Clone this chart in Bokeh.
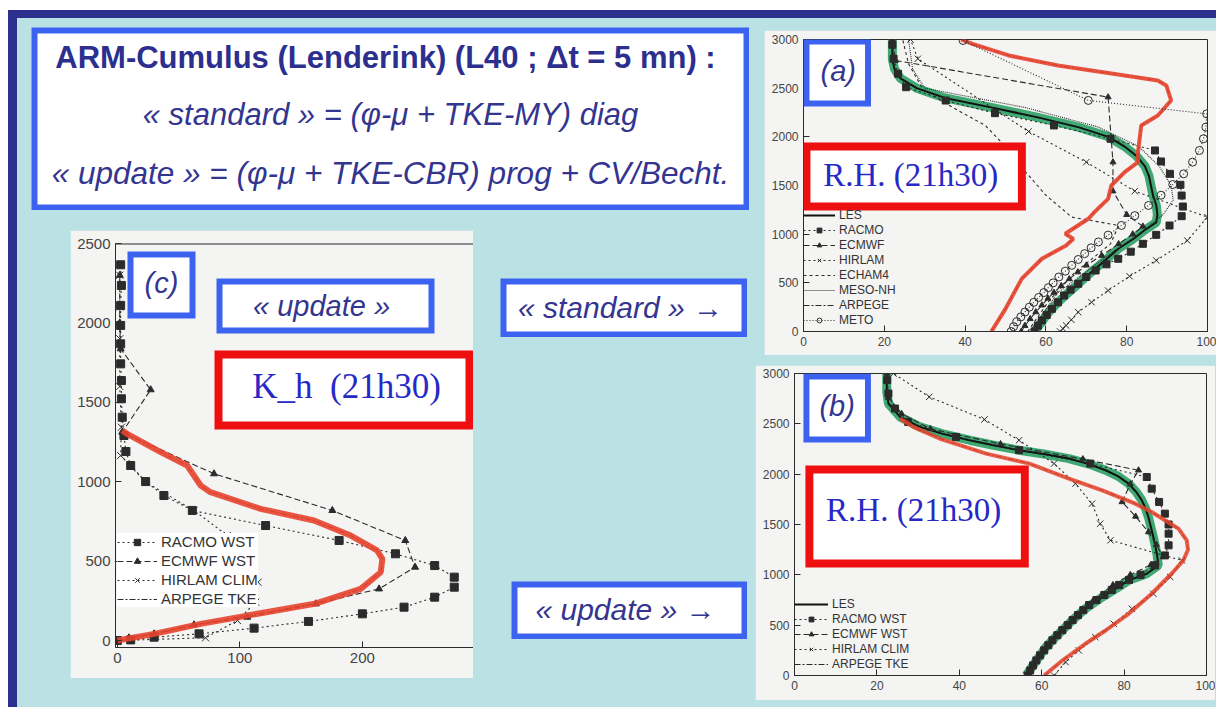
from bokeh.plotting import figure
from bokeh.models import (Range1d, FixedTicker, BoxAnnotation, Label, Span,
                          Legend, LegendItem)
from bokeh.layouts import row, column
from bokeh.embed import file_html
from bokeh.resources import INLINE

# ---------------- colours ----------------
LB = "#bae1e4"; NAVY = "#2d2f8e"; BLUE = "#3c62f0"; RED = "#ee1010"
TXT = "#34358f"; RHC = "#2828c6"; PBG = "#f4f4f3"; INK = "#2b2b2b"
GREEN = "#1f9a5c"; ORANGE = "#e8442c"; TICKC = "#444444"

# ---------------- texts ----------------
TITLE_1 = "ARM-Cumulus (Lenderink) (L40 ; \u0394t = 5 mn) :"
TITLE_2 = "\u00ab standard \u00bb = (\u03c6-\u03bc + TKE-MY) diag"
TITLE_3 = "\u00ab update \u00bb = (\u03c6-\u03bc + TKE-CBR) prog + CV/Becht."
STD_TXT = "\u00ab standard \u00bb \u2192"
UPD_TXT = "\u00ab update \u00bb \u2192"
UPD_C = "\u00ab update \u00bb"
RH_TXT = "R.H. (21h30)"
KH_TXT = "K_h \u00a0(21h30)"

# ---------------- panel (a): « standard », relative humidity (%) vs height (m) ----------------
A_RH_TICKS = [0, 20, 40, 60, 80, 100]
A_Z_TICKS = [0, 500, 1000, 1500, 2000, 2500, 3000]
A_LES_Z = [0, 100, 200, 300, 370, 450, 540, 620, 700, 780, 850, 950, 1040, 1120, 1200, 1300, 1400,
           1500, 1600, 1700, 1800, 1900, 2000, 2100, 2200, 2300, 2400, 2500, 2600, 2700, 2800, 2900, 3000]
A_LES_RH = [57.2, 59.0, 60.7, 63.0, 64.8, 67.0, 69.3, 71.5, 73.8, 76.0, 77.9, 81.6, 84.4, 87.3, 87.6, 87.3, 86.5,
            86.0, 85.5, 84.5, 82.5, 79.5, 75.5, 68.0, 58.0, 46.7, 35.0, 28.0, 24.0, 22.5, 22.0, 22.0, 22.0]
A_RACMO_Z = [0, 60, 113, 170, 233, 300, 370, 430, 490, 560, 627, 690, 747, 820, 901, 993, 1089, 1185, 1284,
             1397, 1507, 1620, 1747, 1860, 1980, 2117, 2243, 2373, 2510, 2648, 2802, 2946]
A_RACMO_RH = [57.2, 58.0, 59.0, 60.2, 61.5, 63.0, 64.5, 66.1, 68.0, 70.0, 72.3, 75.0, 77.9, 81.0, 84.0, 87.3, 90.6,
              93.6, 93.9, 93.6, 93.3, 90.7, 88.5, 87.0, 76.0, 62.0, 47.4, 35.2, 25.4, 23.4, 22.3, 22.0]
A_ECMWF_Z = [0, 60, 130, 200, 270, 340, 400, 470, 540, 610, 680, 780, 900, 1000, 1080, 1200, 1442, 1740,
             2408, 2785, 3000]
A_ECMWF_RH = [53.9, 54.8, 56.1, 57.5, 59.0, 60.5, 62.0, 63.8, 65.8, 67.9, 70.0, 73.8, 78.0, 81.5, 84.0, 80.0,
              76.6, 76.6, 75.4, 22.8, 22.0]
A_HIRLAM_Z = [0, 30, 62, 120, 199, 301, 421, 568, 730, 935, 1175, 1442, 1740, 2055, 2802, 3000]
A_HIRLAM_RH = [63.5, 64.2, 65.0, 66.3, 68.0, 71.3, 75.4, 80.7, 87.3, 95.0, 100.0, 82.0, 70.0, 55.7, 28.3, 26.5]
A_ECHAM4_Z = [0, 300, 600, 900, 1090, 1175, 1400, 1637, 1900, 2117, 2300, 2493, 2750, 2990]
A_ECHAM4_RH = [55.5, 60.5, 67.0, 76.0, 78.0, 66.4, 60.0, 55.0, 50.0, 45.0, 37.0, 29.5, 26.0, 24.6]
A_MESONH_Z = [0, 400, 800, 1000, 1200, 1350, 1500, 1700, 1900, 2100, 2300, 2500, 2700, 3000]
A_MESONH_RH = [56.0, 63.0, 76.0, 83.0, 89.0, 91.5, 91.0, 88.0, 83.0, 73.0, 55.0, 30.0, 27.0, 26.0]
A_ARPEGE_Z = [0, 233, 541, 747, 884, 952, 1004, 1158, 1226, 1363, 1500, 1637, 1740, 1843, 2117, 2219, 2374,
              2528, 2579, 2630, 2733, 2836, 2956, 3000]
A_ARPEGE_RH = [46.5, 50.0, 54.0, 59.0, 65.0, 66.8, 64.8, 70.5, 72.0, 75.4, 76.2, 79.5, 82.8, 82.8, 83.6, 87.7,
               91.0, 89.8, 87.7, 79.5, 63.0, 50.8, 41.8, 39.0]
A_METO_Z = [0, 50, 100, 150, 200, 250, 300, 350, 400, 450, 500, 560, 620, 680, 740, 800, 860, 920, 990, 1090,
            1190, 1295, 1400, 1510, 1620, 1740, 1860, 1980, 2100, 2236, 2374, 2990]
A_METO_RH = [51.4, 52.0, 52.8, 53.8, 54.8, 55.9, 57.0, 58.2, 59.5, 60.6, 61.8, 63.2, 64.8, 66.4, 68.0, 69.6,
             71.2, 73.0, 75.4, 78.7, 82.0, 85.4, 88.5, 91.4, 94.1, 96.3, 98.0, 99.0, 99.6, 99.8, 70.5, 39.5]

# ---------------- panel (b): « update », relative humidity (%) vs height (m) ----------------
B_LES_Z = [0, 100, 200, 282, 400, 547, 660, 779, 870, 945, 1011, 1094, 1200, 1300, 1376, 1475, 1575, 1660,
           1740, 1820, 1906, 1980, 2039, 2100, 2155, 2200, 2238, 2290, 2337, 2400, 2470, 2569, 2702, 2818, 3000]
B_LES_RH = [56.2, 57.9, 59.6, 61.0, 63.8, 67.4, 70.5, 74.7, 78.3, 81.1, 85.5, 88.3, 88.0, 87.5, 87.1, 86.5,
            85.9, 85.2, 84.3, 83.0, 81.1, 78.5, 75.5, 71.5, 66.6, 60.5, 54.5, 48.0, 42.5, 36.0, 30.4, 25.6,
            22.8, 22.4, 22.4]
B_RACMO_Z = [0, 50, 100, 150, 200, 250, 300, 350, 400, 450, 500, 550, 600, 650, 700, 750, 800, 850, 900, 950,
             1000, 1094, 1193, 1293, 1409, 1500, 1608, 1724, 1856, 1972, 2105, 2238, 2370, 2519, 2652, 2801, 2934]
B_RACMO_RH = [56.6, 57.2, 57.9, 58.7, 59.6, 60.6, 61.6, 62.6, 63.8, 65.0, 66.3, 67.5, 68.8, 70.1, 71.5, 73.3,
              75.2, 77.0, 78.8, 81.2, 84.0, 87.5, 89.9, 90.8, 90.8, 90.8, 89.9, 88.5, 86.7, 85.5, 71.8, 54.5,
              39.2, 27.6, 24.4, 22.8, 22.5]
B_ECMWF_Z = [0, 100, 200, 300, 450, 600, 750, 900, 1000, 1100, 1180, 1300, 1425, 1580, 1724, 1900, 2039,
             2150, 2300, 2450, 2600, 2760, 3000]
B_ECMWF_RH = [56.5, 58.0, 59.8, 61.8, 65.0, 68.6, 72.6, 77.3, 81.5, 86.5, 89.5, 87.8, 85.9, 82.8, 79.5, 81.5,
              83.5, 70.0, 50.0, 33.0, 26.0, 22.8, 22.4]
B_HIRLAM_Z = [0, 133, 249, 381, 514, 663, 812, 978, 1144, 1343, 1508, 1707, 1906, 2105, 2337, 2543, 2768, 3000]
B_HIRLAM_RH = [63.0, 65.8, 69.0, 73.0, 77.5, 81.9, 87.1, 91.2, 94.0, 76.7, 74.2, 72.2, 68.2, 63.0, 54.5, 46.1,
               32.7, 24.0]
B_ARPEGE_Z = [0, 149, 315, 447, 613, 812, 1011, 1144, 1250, 1343, 1459, 1540, 1624, 1707, 1840, 1956, 2105,
              2204, 2354, 2470, 2553]
B_ARPEGE_RH = [60.6, 65.0, 70.6, 75.5, 81.1, 86.7, 91.5, 94.4, 95.5, 95.2, 93.2, 90.0, 86.7, 82.7, 74.7, 66.6,
               57.0, 46.5, 35.2, 28.8, 25.6]

# ---------------- panel (c): « update », K_h vs height (m) ----------------
C_K_TICKS = [0, 100, 200]
C_Z_TICKS = [0, 500, 1000, 1500, 2000, 2500]
C_RACMO_Z = [0, 4, 21, 42, 78, 120, 168, 210, 273, 336, 399, 472, 546, 630, 724, 819, 913, 1001, 1102, 1190,
             1291, 1406, 1522, 1637, 1742, 1868, 1984, 2110, 2236, 2366]
C_RACMO_K = [0, 10.9, 30, 66.7, 111.6, 156, 200, 234, 259, 275, 275, 259, 227, 181, 121, 61.2, 38, 23.1, 10.9,
             7, 5.4, 4, 3.3, 3.3, 2.7, 2.7, 2.7, 2.7, 3.3, 2.7]
C_ECMWF_Z = [0, 17, 42, 99, 147, 231, 325, 462, 630, 819, 1050, 1312, 1579, 1837, 2000, 2300]
C_ECMWF_K = [0, 9.5, 30, 62.6, 106, 162, 213.6, 243, 235, 175.5, 78.9, 4, 27.2, 2.7, 2.0, 2.0]
C_HIRLAM_Z = [0, 17, 126, 241, 367, 514, 661, 819, 997, 1165, 1343, 1600, 1900, 2100, 2300]
C_HIRLAM_K = [0, 72, 98, 112.9, 114.8, 107.5, 89.8, 62.6, 23.1, 2.7, 3.3, 2.0, 2.0, 2.0, 2.0]
C_ARPEGE_Z = [0, 42, 105, 157, 231, 325, 430, 514, 567, 661, 756, 829, 934, 976, 1102, 1186, 1301, 1322]
C_ARPEGE_K = [0, 30, 68, 106, 161, 198.6, 215, 216.3, 212, 190.5, 160.5, 117, 76, 68, 57, 35.4, 8, 4]


# ---------------- helpers ----------------
class Geo:
    def __init__(self, ox, oy, w, h, fl, ft, fr, fb, xr, yr):
        self.ox, self.oy, self.w, self.h = ox, oy, w, h
        self.fl, self.ft, self.fr, self.fb = fl, ft, fr, fb
        self.xr, self.yr = xr, yr

    def dx(self, px):
        return self.xr[0] + (px - self.fl) / (self.fr - self.fl) * (self.xr[1] - self.xr[0])

    def dy(self, py):
        return self.yr[1] - (py - self.ft) / (self.fb - self.ft) * (self.yr[1] - self.yr[0])


def style_axis(ax, fs):
    ax.axis_line_color = INK
    ax.major_tick_line_color = INK
    ax.major_tick_in = 6
    ax.major_tick_out = 0
    ax.minor_tick_line_color = None
    ax.major_label_text_font = "Liberation Sans"
    ax.major_label_text_font_size = fs
    ax.major_label_text_color = TICKC
    ax.major_label_standoff = 5


def make_panel(g, xticks, yticks, fs, boxed=True):
    p = figure(width=g.w, height=g.h, x_range=Range1d(*g.xr), y_range=Range1d(*g.yr),
               output_backend="svg", toolbar_location=None,
               min_border_left=g.fl - g.ox, min_border_right=g.ox + g.w - g.fr,
               min_border_top=g.ft - g.oy, min_border_bottom=g.oy + g.h - g.fb,
               background_fill_color=PBG, border_fill_color=PBG,
               outline_line_color=INK if boxed else None)
    p.grid.visible = False
    p.xaxis.ticker = FixedTicker(ticks=xticks)
    p.yaxis.ticker = FixedTicker(ticks=yticks)
    for ax in p.xaxis + p.yaxis:
        style_axis(ax, fs)
    if not boxed:
        p.add_layout(Span(location=g.yr[1], dimension="width", line_color=INK, line_width=2))
    return p


def series(p, xs, ys, dash, marker=None, msize=7, fill=True, lw=1.1):
    rs = [p.line(xs, ys, line_color=INK, line_width=lw, line_dash=dash)]
    if marker:
        rs.append(p.scatter(xs, ys, marker=marker, size=msize, line_color=INK,
                            fill_color=INK if fill else None, line_width=1))
    return rs


def framed_box(p, g, x0, y0, x1, y1, color, t):
    p.add_layout(BoxAnnotation(left=g.dx(x0), right=g.dx(x1), top=g.dy(y0), bottom=g.dy(y1),
                               fill_color=color, fill_alpha=1.0, line_color=None))
    p.add_layout(BoxAnnotation(left=g.dx(x0 + t), right=g.dx(x1 - t), top=g.dy(y0 + t),
                               bottom=g.dy(y1 - t), fill_color="white", fill_alpha=1.0, line_color=None))


def label(p, g, cx, my, text, font, size, color, style="normal"):
    p.add_layout(Label(x=g.dx(cx), y=g.dy(my), text=text, text_align="center", text_baseline="middle",
                       text_font=font, text_font_size=size, text_color=color, text_font_style=style))


def legend(p, items, loc, fs, gw, gh, bg=None, sp=1):
    lg = Legend(items=[LegendItem(label=l, renderers=r) for l, r in items], location=loc,
                label_text_font="Liberation Sans", label_text_font_size=fs, label_text_color="#333333",
                glyph_width=gw, glyph_height=gh, label_height=gh, spacing=sp, padding=3, margin=0,
                label_standoff=4, border_line_color=None,
                background_fill_color=bg if bg else "white", background_fill_alpha=1.0 if bg else 0.0)
    p.add_layout(lg)


# ---------------- panel (a) ----------------
ga = Geo(764, 30, 452, 325, 803, 39, 1210, 331, (0, 100), (0, 3000))
pa = make_panel(ga, A_RH_TICKS, A_Z_TICKS, "12px")
pa.line(A_LES_RH, A_LES_Z, line_color=GREEN, line_width=9, line_alpha=0.85)
a_les = pa.line(A_LES_RH, A_LES_Z, line_color="#111111", line_width=2)
a_racmo = series(pa, A_RACMO_RH, A_RACMO_Z, "2 3", "square", 7)
a_ecmwf = series(pa, A_ECMWF_RH, A_ECMWF_Z, "6 3", "triangle", 6)
a_hirlam = series(pa, A_HIRLAM_RH, A_HIRLAM_Z, "2 3", "x", 9)
a_echam = series(pa, A_ECHAM4_RH, A_ECHAM4_Z, "3 3")
a_meso = series(pa, A_MESONH_RH, A_MESONH_Z, "1 1")
a_arpege = series(pa, A_ARPEGE_RH, A_ARPEGE_Z, "6 2 2 2")
pa.line(A_ARPEGE_RH, A_ARPEGE_Z, line_color=ORANGE, line_width=4, line_alpha=0.9)
a_meto = series(pa, A_METO_RH, A_METO_Z, "1 2", "circle", 8, fill=False)
legend(pa, [("LES", [a_les]), ("RACMO", a_racmo), ("ECMWF", a_ecmwf), ("HIRLAM", a_hirlam),
            ("ECHAM4", a_echam), ("MESO-NH", a_meso), ("ARPEGE", a_arpege), ("METO", a_meto)],
       (0, 4), "12px", 32, 12)
framed_box(pa, ga, 803, 38, 871, 106, BLUE, 6)
label(pa, ga, 838, 70, "(a)", "Liberation Sans", "29px", TXT, "italic")
framed_box(pa, ga, 802, 142, 1027, 210, RED, 8)
label(pa, ga, 911, 174, RH_TXT, "Liberation Serif", "33px", RHC)

# ---------------- panel (b) ----------------
gb = Geo(755, 365, 460, 335, 791, 373, 1206, 675, (0, 100), (0, 3000))
pb = make_panel(gb, A_RH_TICKS, A_Z_TICKS, "12px")
pb.line(B_LES_RH, B_LES_Z, line_color=GREEN, line_width=9, line_alpha=0.85)
b_les = pb.line(B_LES_RH, B_LES_Z, line_color="#111111", line_width=2)
b_racmo = series(pb, B_RACMO_RH, B_RACMO_Z, "2 3", "square", 7)
b_ecmwf = series(pb, B_ECMWF_RH, B_ECMWF_Z, "6 3", "triangle", 6)
b_hirlam = series(pb, B_HIRLAM_RH, B_HIRLAM_Z, "2 3", "x", 9)
b_arpege = series(pb, B_ARPEGE_RH, B_ARPEGE_Z, "6 2 2 2")
pb.line(B_ARPEGE_RH, B_ARPEGE_Z, line_color=ORANGE, line_width=4, line_alpha=0.85)
legend(pb, [("LES", [b_les]), ("RACMO WST", b_racmo), ("ECMWF WST", b_ecmwf),
            ("HIRLAM CLIM", b_hirlam), ("ARPEGE TKE", b_arpege)], (0, 4), "12px", 34, 12)
framed_box(pb, gb, 800, 373, 868, 442, BLUE, 6)
label(pb, gb, 834, 405, "(b)", "Liberation Sans", "29px", TXT, "italic")
framed_box(pb, gb, 802, 465, 1027, 567, RED, 8)
label(pb, gb, 911, 509, RH_TXT, "Liberation Serif", "33px", RHC)

# ---------------- panel (c) ----------------
gc = Geo(70, 230, 403, 448, 115, 243, 473, 647, (-1.5, 290.7), (-44, 2500))
pc = make_panel(gc, C_K_TICKS, C_Z_TICKS, "15px", boxed=False)
c_racmo = series(pc, C_RACMO_K, C_RACMO_Z, "2 3", "square", 8)
c_ecmwf = series(pc, C_ECMWF_K, C_ECMWF_Z, "6 3", "triangle", 7)
c_hirlam = series(pc, C_HIRLAM_K, C_HIRLAM_Z, "2 3", "x", 10)
c_arpege = series(pc, C_ARPEGE_K, C_ARPEGE_Z, "6 2 2 2")
pc.line(C_ARPEGE_K, C_ARPEGE_Z, line_color=ORANGE, line_width=6, line_alpha=0.9)
legend(pc, [("RACMO WST", c_racmo), ("ECMWF WST", c_ecmwf), ("HIRLAM CLIM", c_hirlam),
            ("ARPEGE TKE", c_arpege)], (2, 40), "15px", 40, 16, bg="white", sp=2)
framed_box(pc, gc, 127, 251, 195, 318, BLUE, 6)
label(pc, gc, 161, 282, "(c)", "Liberation Sans", "29px", TXT, "italic")
framed_box(pc, gc, 216, 278, 434, 333, BLUE, 6)
label(pc, gc, 321, 305, UPD_C, "Liberation Sans", "29px", TXT, "italic")
framed_box(pc, gc, 214, 350, 473, 429, RED, 8)
label(pc, gc, 346, 386, KH_TXT, "Liberation Serif", "35px", RHC)


# ---------------- text boxes ----------------
def text_box(ox, oy, w, h, t):
    g = Geo(ox, oy, w, h, ox, oy, ox + w, oy + h, (0, w), (0, h))
    p = figure(width=w, height=h, x_range=Range1d(0, w), y_range=Range1d(0, h),
               output_backend="svg", toolbar_location=None, x_axis_type=None, y_axis_type=None,
               min_border=0, outline_line_color=None,
               background_fill_color=BLUE, border_fill_color=BLUE)
    p.grid.visible = False
    p.add_layout(BoxAnnotation(left=t, right=w - t, bottom=t, top=h - t, fill_color="white",
                               fill_alpha=1.0, line_color=None))
    return p, g


pt, gt = text_box(31, 27, 718, 183, 6)
label(pt, gt, 385, 57, TITLE_1, "Liberation Sans", "31px", NAVY, "bold")
label(pt, gt, 390, 114, TITLE_2, "Liberation Sans", "31px", TXT, "italic")
label(pt, gt, 390, 172, TITLE_3, "Liberation Sans", "31.5px", TXT, "italic")

ps, gs = text_box(500, 278, 247, 59, 6)
label(ps, gs, 620, 307, STD_TXT, "Liberation Sans", "30px", TXT, "italic")
pu, gu = text_box(511, 581, 236, 58, 6)
label(pu, gu, 625, 609, UPD_TXT, "Liberation Sans", "30px", TXT, "italic")

# ---------------- layout ----------------
pt.margin = (9, 0, 0, 14)
pc.margin = (20, 0, 0, 53)
ps.margin = (68, 0, 0, 0)
pu.margin = (244, 0, 0, 11)
side = column(ps, pu, spacing=0, margin=(0, 0, 0, 27))
left = column(pt, row(pc, side, spacing=0), spacing=0)
pa.margin = (12, 0, 0, 15)
pb.margin = (10, 0, 0, 6)
right = column(pa, pb, spacing=0)
root = row(left, right, spacing=0,
           styles={"background-color": LB, "border-top": "8px solid " + NAVY,
                   "border-left": "9px solid " + NAVY, "margin-top": "10px",
                   "margin-left": "8px", "padding-bottom": "7px"})

open("out.html", "w").write(file_html(root, INLINE))
